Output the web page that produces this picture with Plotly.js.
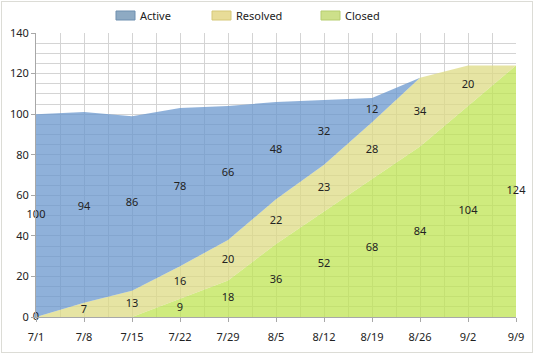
<!DOCTYPE html>
<html>
<head>
<meta charset="utf-8">
<script src="https://cdn.plot.ly/plotly-3.0.1.min.js"></script>
<style>
html,body{margin:0;padding:0;background:#fff;}
#wrap{position:relative;width:538px;height:356px;}
#chart{width:538px;height:356px;}
#frame{position:absolute;left:1px;top:1px;width:530px;height:350px;border:1px solid #dcdcd6;pointer-events:none;}
</style>
</head>
<body>
<div id="wrap"><div id="chart"></div><div id="frame"></div></div>
<script>
const categories = ["7/1","7/8","7/15","7/22","7/29","8/5","8/12","8/19","8/26","9/2","9/9"];
const closed   = [0, 0, 0, 9, 18, 36, 52, 68, 84, 104, 124];
const resolved = [0, 7, 13, 16, 20, 22, 23, 28, 34, 20, 0];
const active   = [100, 94, 86, 78, 66, 48, 32, 12, 0, 0, 0];
const closedLabelShown = [true, false, false, true, true, true, true, true, true, true, true];
const legendNames = ["Active", "Resolved", "Closed"];

const xs = categories.map((c, i) => i);
const font = {family: "Noto Sans, Open Sans, DejaVu Sans, sans-serif", size: 11, color: "#222"};

const series = [
  {name: "Closed", vals: closed, fill: "rgba(191,228,83,0.75)", swatch: "#cde08a", border: "#b6cd6e"},
  {name: "Resolved", vals: resolved, fill: "rgba(222,219,132,0.75)", swatch: "#e8dc98", border: "#d6c878"},
  {name: "Active", vals: active, fill: "rgba(106,151,206,0.75)", swatch: "#8eaac3", border: "#6e8faf"}
];

const traces = [];
series.forEach(s => {
  traces.push({
    type: "scatter", mode: "lines", name: s.name, x: xs, y: s.vals,
    stackgroup: "one", fillcolor: s.fill, line: {width: 0, color: s.fill},
    hoverinfo: "skip", showlegend: false
  });
});

// labels at band centres
let base = xs.map(() => 0);
series.forEach(s => {
  const ys = [], txt = [], xx = [];
  s.vals.forEach((v, i) => {
    const show = s.name === "Closed" ? closedLabelShown[i] : v !== 0;
    if (show) { xx.push(i); ys.push(base[i] + v / 2); txt.push(String(v)); }
  });
  base = base.map((b, i) => b + s.vals[i]);
  traces.push({
    type: "scatter", mode: "text", x: xx, y: ys, text: txt, textposition: "middle center",
    textfont: font, showlegend: false, hoverinfo: "skip", cliponaxis: false
  });
});

// manual legend (pixel positions converted to paper coords)
const L = 36, R = 516, T = 33, B = 317;
const px = p => (p - L) / (R - L);
const py = p => (B - p) / (B - T);
const swatchX = [116, 212, 321];
const shapes = [], annotations = [];
legendNames.forEach((n, k) => {
  const s = series.find(q => q.name === n);
  shapes.push({type: "rect", xref: "paper", yref: "paper",
    x0: px(swatchX[k]), x1: px(swatchX[k] + 19), y0: py(20), y1: py(11),
    fillcolor: s.swatch, line: {color: s.border, width: 1}});
  annotations.push({xref: "paper", yref: "paper", x: px(swatchX[k] + 22), y: py(15.5),
    xanchor: "left", yanchor: "middle", text: n, showarrow: false, font: font});
});

const layout = {
  width: 538, height: 356,
  margin: {l: 36, r: 22, t: 33, b: 39, autoexpand: false},
  paper_bgcolor: "#fff", plot_bgcolor: "#fff",
  font: font,
  showlegend: false,
  shapes: shapes, annotations: annotations,
  xaxis: {
    range: [0, 10], tickvals: xs, ticktext: categories,
    showline: true, linecolor: "#a8a8a8", linewidth: 1,
    ticks: "outside", ticklen: 4, tickcolor: "#a8a8a8", ticklabelstandoff: 6,
    showgrid: true, gridcolor: "#d4d4d4", gridwidth: 1,
    minor: {dtick: 0.5, showgrid: true, gridcolor: "#d4d4d4", gridwidth: 1},
    zeroline: false, tickfont: font, fixedrange: true
  },
  yaxis: {
    range: [0, 140], dtick: 20,
    showline: true, linecolor: "#a8a8a8", linewidth: 1,
    ticks: "outside", ticklen: 4, tickcolor: "#a8a8a8",
    showgrid: true, gridcolor: "#d4d4d4", gridwidth: 1,
    minor: {dtick: 5, showgrid: true, gridcolor: "#d4d4d4", gridwidth: 1},
    zeroline: false, tickfont: font, fixedrange: true
  }
};

Plotly.newPlot("chart", traces, layout, {displayModeBar: false, staticPlot: true});
</script>
</body>
</html>
